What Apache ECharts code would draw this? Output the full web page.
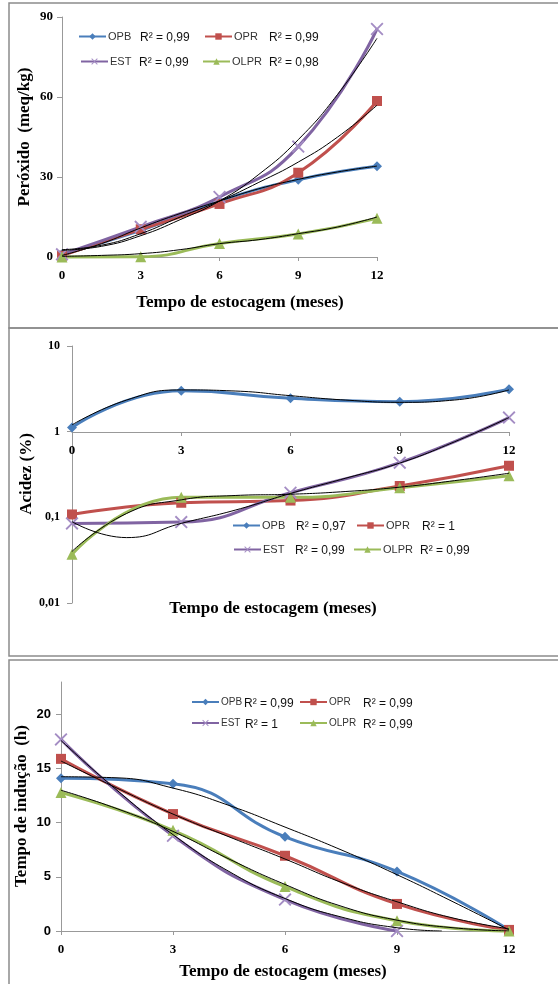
<!DOCTYPE html>
<html>
<head>
<meta charset="utf-8">
<script src="https://cdn.jsdelivr.net/npm/echarts@6/dist/echarts.min.js"></script>
<style>
html,body{margin:0;padding:0;background:#fff}
#chart{width:558px;height:984px}
</style>
</head>
<body>
<div id="chart"></div>
<script>
// meses de estocagem
var months = [0, 3, 6, 9, 12];
var fitX = [0, 1.5, 3, 4.5, 6, 7.5, 9, 10.5, 12];
var fitXEst = [0, 1.5, 3, 4.5, 6, 7.5, 9, 10.2];
var monthsEst = [0, 3, 6, 9];

// Peróxido (meq/kg)
var perOPB = [1, 10, 21, 29, 34];
var perOPR = [0.5, 10.4, 19.9, 31.6, 58.5];
var perEST = [1, 11.3, 22.5, 41.4, 85.5];
var perOLPR = [0, 0.1, 5.1, 8.6, 14.5];
var fitPerOPB = [0.6, 5, 10.9, 16.3, 21, 25.6, 29.1, 31.9, 34.1];
var fitPerOPR = [2.75, 4.4, 8.75, 15, 21, 28, 35.6, 45, 56.9];
var fitPerEST = [2.5, 4, 8, 14, 21, 31, 44, 61, 82];
var fitPerOLPR = [0.25, 0.6, 1.25, 2.75, 5, 6.5, 8.75, 11.25, 15];

// Acidez (%)
var acOPB = [1.12, 3.0, 2.45, 2.24, 3.12];
var acOPR = [0.108, 0.148, 0.157, 0.232, 0.40];
var acEST = [0.085, 0.088, 0.194, 0.435, 1.46];
var acOLPR = [0.037, 0.171, 0.171, 0.222, 0.306];
var fitAcOPB = [1.2, 2.34, 3.07, 2.98, 2.63, 2.34, 2.2, 2.34, 3.07];
var fitAcEST = [0.089, 0.058, 0.085, 0.122, 0.19, 0.285, 0.43, 0.76, 1.46];
var fitAcOLPR = [0.04, 0.111, 0.16, 0.18, 0.186, 0.2, 0.225, 0.268, 0.327];

// Tempo de indução (h)
var inOPB = [14.1, 13.6, 8.7, 5.5, 0.1];
var inOPR = [15.9, 10.8, 6.95, 2.5, 0.1];
var inEST = [17.7, 8.8, 2.9, 0];
var inOLPR = [12.8, 9.3, 4.1, 0.95, 0];
var fitInOPB = [14.25, 14.15, 13.2, 11.6, 9.6, 7.5, 5.2, 2.7, 0.1];
var fitInOPR = [15.7, 13.2, 10.8, 8.7, 6.65, 4.5, 2.7, 1.2, 0.2];
var fitInEST = [17.6, 13.0, 8.9, 5.5, 3.0, 1.3, 0.3, 0];
var fitInOLPR = [13.0, 11.3, 9.2, 6.65, 4.3, 2.3, 1.0, 0.3, 0];

var styles = {
	'OPB': {color: '#4a7ebb', mcolor: '#4a7ebb', symbol: 'diamond', size: 10},
	'OPR': {color: '#c0504d', mcolor: '#c0504d', symbol: 'rect', size: 10},
	'EST': {color: '#8064a2', mcolor: '#a48dc4', symbol: 'path://M0,1L1,0L5,4L9,0L10,1L6,5L10,9L9,10L5,6L1,10L0,9L4,5Z', size: 13},
	'OLPR': {color: '#9bbb59', mcolor: '#9bbb59', symbol: 'triangle', size: 11}
};

function pairs(xs, ys){
	return ys.map(function(v, i){ return [xs[i], v]; });
}
function dataSeries(name, idx, xs, ys){
	var st = styles[name];
	return {
		name: name, type: 'line', xAxisIndex: idx, yAxisIndex: idx,
		smooth: true, data: pairs(xs, ys), clip: false,
		symbol: st.symbol, symbolSize: st.size, showSymbol: true,
		lineStyle: {color: st.color, width: 3},
		itemStyle: {color: st.mcolor},
		z: 2
	};
}
function fitSeries(idx, xs, ys){
	return {
		name: 'fit', type: 'line', xAxisIndex: idx, yAxisIndex: idx,
		smooth: true, data: pairs(xs, ys), symbol: 'none', silent: true,
		lineStyle: {color: '#000', width: 1}, z: 3
	};
}
function legendAt(name, x, y, fs){
	return {
		data: [name], left: x, top: y - 7, itemWidth: 27, itemHeight: 8,
		padding: 0, selectedMode: false,
		textStyle: {fontSize: fs, color: '#333', fontFamily: 'Liberation Sans', padding: [0, 0, 0, -3]}
	};
}
function r2(text, x, y){
	return {type: 'text', x: x, y: y, style: {text: text, font: '12px "Liberation Sans"', fill: '#111', verticalAlign: 'middle'}};
}
function title(text, x, y, rot){
	return {type: 'text', x: x, y: y, rotation: rot ? Math.PI / 2 : 0,
		style: {text: text, font: 'bold 17px "Liberation Serif"', fill: '#000', align: 'center', verticalAlign: 'middle'}};
}

var serifBold = {fontFamily: 'Liberation Serif', fontWeight: 'bold', fontSize: 13, color: '#000'};
var axisGray = {lineStyle: {color: '#999', width: 1}};

function xAxisCfg(idx, extra){
	var a = {
		gridIndex: idx, type: 'value', min: 0, max: 12, interval: 3,
		axisLine: axisGray, axisTick: {show: true, length: 4, lineStyle: {color: '#999'}},
		splitLine: {show: false},
		axisLabel: Object.assign({margin: 12}, serifBold)
	};
	return Object.assign(a, extra || {});
}

var myChart = echarts.init(document.getElementById('chart'));
var option = {
	animation: false,
	grid: [
		{left: 62, top: 17, width: 315, height: 240},
		{left: 72, top: 346, width: 437, height: 257},
		{left: 61, top: 682, width: 448, height: 249}
	],
	xAxis: [
		xAxisCfg(0),
		xAxisCfg(1, {offset: -171}),
		xAxisCfg(2)
	],
	yAxis: [
		{gridIndex: 0, type: 'value', min: 0, max: 90, interval: 30,
			axisLine: {show: true, lineStyle: {color: '#999'}},
			axisTick: {show: true, length: 5, lineStyle: {color: '#999'}},
			splitLine: {show: false},
			axisLabel: Object.assign({margin: 9}, serifBold)},
		{gridIndex: 1, type: 'log', logBase: 10, min: 0.01, max: 10,
			axisLine: {show: true, lineStyle: {color: '#999'}},
			axisTick: {show: true, length: 5, lineStyle: {color: '#999'}},
			minorTick: {show: false}, splitLine: {show: false},
			axisLabel: Object.assign({margin: 12, formatter: function(v){
				return String(+v.toPrecision(2)).replace('.', ',');
			}}, serifBold, {fontSize: 12})},
		{gridIndex: 2, type: 'value', min: 0, max: 23,
			axisLine: {show: true, lineStyle: {color: '#999'}},
			axisTick: {show: true, length: 5, lineStyle: {color: '#999'}, customValues: [0, 5, 10, 15, 20]},
			splitLine: {show: false},
			axisLabel: {margin: 10, customValues: [0, 5, 10, 15, 20], fontFamily: 'Liberation Sans', fontWeight: 'bold', fontSize: 13, color: '#000'}}
	],
	legend: [
		legendAt('OPB', 78, 38, 11), legendAt('OPR', 204, 38, 11),
		legendAt('EST', 80, 63, 11), legendAt('OLPR', 202, 63, 11),
		legendAt('OPB', 232, 527, 11), legendAt('OPR', 356, 527, 11),
		legendAt('EST', 233, 551, 11), legendAt('OLPR', 353, 551, 11),
		legendAt('OPB', 191, 704, 10), legendAt('OPR', 299, 704, 10),
		legendAt('EST', 191, 725, 10), legendAt('OLPR', 299, 725, 10)
	],
	graphic: [
		{type: 'rect', shape: {x: 9, y: 3, width: 600, height: 325}, style: {fill: 'none', stroke: '#8c8c8c', lineWidth: 1.5}},
		{type: 'rect', shape: {x: 9, y: 328, width: 600, height: 328}, style: {fill: 'none', stroke: '#8c8c8c', lineWidth: 1.5}},
		{type: 'rect', shape: {x: 9, y: 660, width: 600, height: 340}, style: {fill: 'none', stroke: '#8c8c8c', lineWidth: 1.5}},
		r2('R² = 0,99', 140, 38), r2('R² = 0,99', 269, 38),
		r2('R² = 0,99', 139, 63), r2('R² = 0,98', 269, 63),
		r2('R² = 0,97', 296, 527), r2('R² = 1', 422, 527),
		r2('R² = 0,99', 295, 551), r2('R² = 0,99', 420, 551),
		r2('R² = 0,99', 244, 704), r2('R² = 0,99', 363, 704),
		r2('R² = 1', 245, 725), r2('R² = 0,99', 363, 725),
		title('Tempo de estocagem (meses)', 240, 303),
		title('Tempo de estocagem (meses)', 273, 609),
		title('Tempo de estocagem (meses)', 283, 972),
		title('Peróxido  (meq/kg)', 25, 137, true),
		title('Acidez (%)', 27, 474, true),
		title('Tempo de indução  (h)', 22, 806, true)
	],
	series: [
		dataSeries('OPB', 0, months, perOPB),
		dataSeries('OPR', 0, months, perOPR),
		dataSeries('EST', 0, months, perEST),
		dataSeries('OLPR', 0, months, perOLPR),
		fitSeries(0, fitX, fitPerOPB),
		fitSeries(0, fitX, fitPerOPR),
		fitSeries(0, fitX, fitPerEST),
		fitSeries(0, fitX, fitPerOLPR),

		dataSeries('OPB', 1, months, acOPB),
		dataSeries('OPR', 1, months, acOPR),
		dataSeries('EST', 1, months, acEST),
		dataSeries('OLPR', 1, months, acOLPR),
		fitSeries(1, fitX, fitAcOPB),
		fitSeries(1, fitX, fitAcEST),
		fitSeries(1, fitX, fitAcOLPR),

		dataSeries('OPB', 2, months, inOPB),
		dataSeries('OPR', 2, months, inOPR),
		dataSeries('EST', 2, monthsEst, inEST),
		dataSeries('OLPR', 2, months, inOLPR),
		fitSeries(2, fitX, fitInOPB),
		fitSeries(2, fitX, fitInOPR),
		fitSeries(2, fitXEst, fitInEST),
		fitSeries(2, fitX, fitInOLPR)
	]
};
myChart.setOption(option);
</script>
</body>
</html>
